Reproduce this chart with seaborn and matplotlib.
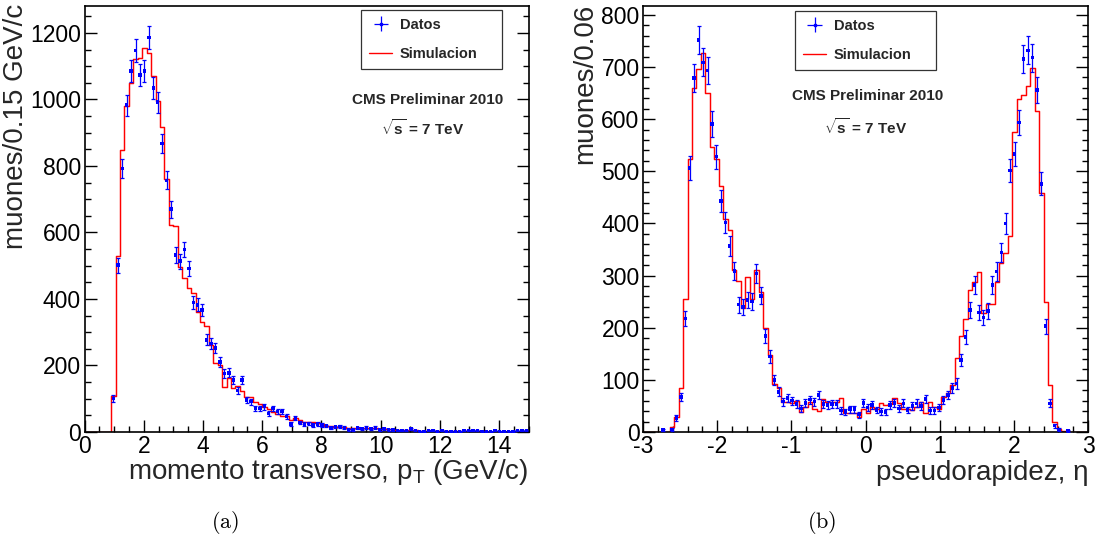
import numpy as np
import pandas as pd
import matplotlib
matplotlib.use("Agg")
import matplotlib.pyplot as plt
import seaborn as sns
from matplotlib.ticker import MultipleLocator
from matplotlib.lines import Line2D

sns.set_theme(style="ticks")
plt.rcParams["font.family"] = ["Liberation Sans", "DejaVu Sans"]
plt.rcParams["axes.unicode_minus"] = False
plt.rcParams["mathtext.fontset"] = "custom"
plt.rcParams["mathtext.rm"] = "Liberation Sans"
plt.rcParams["mathtext.bf"] = "Liberation Sans:bold"
plt.rcParams["mathtext.it"] = "Liberation Sans:italic"

# ---------------- data ----------------
pt_edges = np.linspace(0, 15, 101)
eta_edges = np.linspace(-3, 3, 101)

pt_sim = [0, 0, 0, 0, 0, 0, 108, 529, 848, 979,
          1048, 1122, 1126, 1156, 1139, 1072, 996, 918, 761, 623,
          620, 497, 462, 432, 417, 362, 332, 320, 262, 208,
          201, 136, 163, 131, 138, 124, 106, 106, 91, 83,
          76, 68, 60, 55, 49, 49, 36, 43, 36, 31,
          29, 29, 26, 23, 19, 19, 16, 16, 16, 11,
          11, 11, 13, 13, 13, 13, 9, 9, 9, 6,
          6, 6, 6, 6, 6, 4, 4, 4, 4, 3,
          3, 3, 3, 3, 3, 3, 3, 3, 3, 3,
          1, 1, 1, 1, 1, 1, 1, 1, 1, 1]

pt_data = [0, 0, 0, 0, 0, 0, 101, 502, 793, 983,
           1086, 1147, 1074, 1086, 1187, 1034, 992, 868, 757, 670,
           532, 514, 549, 492, 390, 382, 367, 277, 267, 252,
           211, 176, 178, 156, 124, 156, 96, 91, 71, 71,
           76, 56, 71, 61, 61, 46, 24, 41, 28, 24,
           26, 21, 24, 21, 18, 12, 15, 17, 14, 7,
           7, 12, 10, 14, 10, 14, 7, 10, 7, 7,
           4, 4, 4, 10, 4, 2, 2, 4, 4, 2,
           4, 2, 2, 2, 2, 5, 4, 5, 4, 2,
           2, 2, 5, 2, 1, 1, 1, 5, 4, 4]

eta_sim = [0, 0, 0, 0, 0, 0, 10, 28, 84, 256,
           523, 659, 696, 726, 650, 546, 523, 471, 408, 388,
           311, 290, 238, 298, 255, 311, 269, 199, 148, 93,
           84, 58, 58, 55, 60, 38, 47, 58, 44, 41,
           63, 58, 58, 58, 65, 37, 36, 37, 28, 44,
           37, 47, 45, 56, 52, 53, 65, 56, 45, 45,
           42, 47, 58, 37, 58, 47, 45, 68, 75, 90,
           141, 184, 216, 272, 288, 306, 229, 246, 246, 287,
           324, 343, 376, 576, 639, 647, 663, 698, 615, 458,
           250, 90, 20, 5, 2, 0, 0, 0, 0, 0]

eta_data = [0, 0, 0, 0, 4, 0, 5, 27, 67, 218,
            506, 679, 752, 709, 693, 591, 528, 443, 402, 357,
            309, 244, 240, 253, 250, 304, 261, 184, 145, 100,
            77, 58, 65, 60, 54, 45, 56, 62, 58, 71,
            54, 52, 54, 54, 41, 38, 44, 44, 33, 56,
            47, 52, 42, 39, 38, 52, 56, 45, 55, 42,
            50, 55, 50, 63, 41, 41, 47, 61, 71, 84,
            93, 138, 182, 234, 282, 229, 220, 232, 282, 308,
            344, 400, 501, 533, 593, 715, 732, 718, 656, 476,
            203, 55, 12, 5, 0, 2, 0, 0, 0, 0]

RED = "#ff0000"
BLUE = "#0000ff"

W, H = 1097, 538
fig = plt.figure(figsize=(W / 100, H / 100), dpi=100)
ax1 = fig.add_axes([84.5 / W, 106 / H, 444 / W, 426 / H])
ax2 = fig.add_axes([643 / W, 106 / H, 445 / W, 426 / H])


def draw(ax, edges, sim, data):
    centers = (edges[:-1] + edges[1:]) / 2
    step = pd.DataFrame({"x": edges, "y": list(sim) + [sim[-1]]})
    sns.lineplot(data=step, x="x", y="y", drawstyle="steps-post",
                 estimator=None, sort=False, color=RED, linewidth=1.05, ax=ax)
    df = pd.DataFrame({"x": centers, "data": data})
    d = df[df["data"] > 0]
    ax.errorbar(d["x"], d["data"], yerr=np.sqrt(d["data"]), fmt="none",
                ecolor=BLUE, elinewidth=0.9, capsize=1.4, capthick=0.9, zorder=3)
    sns.scatterplot(data=d, x="x", y="data", marker="s", s=6, color=BLUE,
                    edgecolor="none", ax=ax, zorder=4)
    h_data = ax.errorbar([np.nan], [np.nan], xerr=[1], yerr=[1], fmt="s", ms=2,
                         color=BLUE, elinewidth=0.9, capsize=0)
    h_sim = Line2D([], [], color=RED, lw=1.0)
    ax.set_xlabel("")
    ax.set_ylabel("")
    return h_data, h_sim


def style(ax, xlim, ylim, xmaj, xmin, ymaj, ymin):
    ax.set_xlim(*xlim)
    ax.set_ylim(*ylim)
    ax.xaxis.set_major_locator(MultipleLocator(xmaj))
    ax.xaxis.set_minor_locator(MultipleLocator(xmin))
    ax.yaxis.set_major_locator(MultipleLocator(ymaj))
    ax.yaxis.set_minor_locator(MultipleLocator(ymin))
    ax.tick_params(which="both", direction="in", top=False, right=True,
                   color="black", width=1.0, labelsize=16.5, labelcolor="black")
    ax.tick_params(which="major", length=8.5, pad=2.5)
    ax.tick_params(which="minor", length=4.3)
    for s in ax.spines.values():
        s.set_color("black")
        s.set_linewidth(1.2)
        s.set_visible(True)


def legend(ax, handles, x0, y1, w):
    leg = ax.legend(handles, ["Datos", "Simulacion"], loc="upper left",
                    bbox_to_anchor=(x0, y1, w, 0), mode="expand",
                    frameon=True, fancybox=False, edgecolor="black",
                    prop={"weight": "bold", "size": 10.5},
                    handlelength=1.6, handletextpad=0.5, borderpad=0.55,
                    labelspacing=1.05, borderaxespad=0)
    leg.get_frame().set_linewidth(0.9)
    leg.get_frame().set_facecolor("white")


hd, hs = draw(ax1, pt_edges, pt_sim, pt_data)
style(ax1, (0, 15), (0, 1281), 2, 0.5, 200, 50)
legend(ax1, [hd, hs], 0.623, 0.991, 0.317)
ax1.text(0.7725, 0.779, "CMS Preliminar 2010", transform=ax1.transAxes,
         ha="center", va="center", fontsize=11, fontweight="bold")
ax1.text(0.762, 0.714, r"$\sqrt{\mathbf{s}}$ = 7 TeV", transform=ax1.transAxes,
         ha="center", va="center", fontsize=11, fontweight="bold")

hd, hs = draw(ax2, eta_edges, eta_sim, eta_data)
style(ax2, (-3, 3), (0, 817), 1, 0.2, 100, 20)
legend(ax2, [hd, hs], 0.3416, 0.989, 0.317)
ax2.text(0.5045, 0.789, "CMS Preliminar 2010", transform=ax2.transAxes,
         ha="center", va="center", fontsize=11, fontweight="bold")
ax2.text(0.499, 0.717, r"$\sqrt{\mathbf{s}}$ = 7 TeV", transform=ax2.transAxes,
         ha="center", va="center", fontsize=11, fontweight="bold")

# axis titles (ROOT style, aligned to the axis ends)
fig.text(16 / W, 1 - 4 / H, "muones/0.15 GeV/c", rotation=90, ha="center",
         va="top", fontsize=20)
fig.text(585 / W, 1 - 4 / H, "muones/0.06", rotation=90, ha="center",
         va="top", fontsize=20)
fig.text(528 / W, 1 - 472 / H, r"momento transverso, p$_{\mathrm{T}}$ (GeV/c)",
         ha="right", va="center", fontsize=20)
fig.text(1088 / W, 1 - 473 / H, "pseudorapidez, η", ha="right", va="center",
         fontsize=20)

# sub-figure captions
fig.text(225 / W, 1 - 522 / H, r"$\mathrm{(a)}$", math_fontfamily="cm",
         ha="center", va="center", fontsize=16, color="black")
fig.text(822 / W, 1 - 522 / H, r"$\mathrm{(b)}$", math_fontfamily="cm",
         ha="center", va="center", fontsize=16, color="black")

fig.savefig("out.png", dpi=100, facecolor="white")
